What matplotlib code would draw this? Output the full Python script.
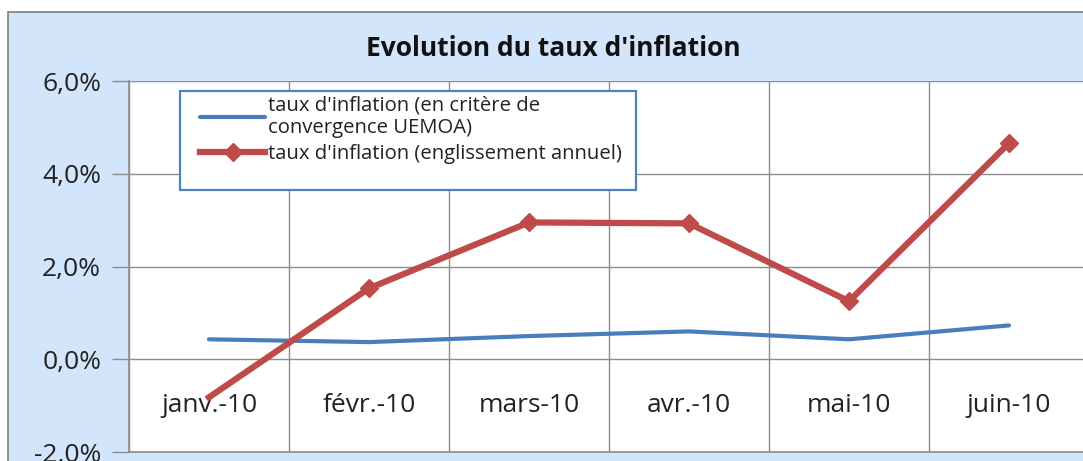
import matplotlib
matplotlib.use("Agg")
import matplotlib.pyplot as plt
from matplotlib.patches import Rectangle
from matplotlib.ticker import FuncFormatter, MultipleLocator

# Data (percent)
months = ["janv.-10", "févr.-10", "mars-10", "avr.-10", "mai-10", "juin-10"]
uemoa = [0.43, 0.37, 0.50, 0.60, 0.43, 0.73]
annual = [-0.82, 1.53, 2.95, 2.93, 1.25, 4.66]
labels = ["taux d'inflation (en critère de\nconvergence UEMOA)",
          "taux d'inflation (englissement annuel)"]

BG_COLOR = "#d3e5fb"
GRID_COLOR = "#8c8c8c"
BLUE = "#4a7ebb"
RED = "#be4b48"
TEXT = "#222222"
FONT = "Open Sans"

fig = plt.figure(figsize=(10.83, 4.61), dpi=100)
fig.patch.set_facecolor("white")
# outer chart area
fig.patches.append(Rectangle((8 / 1083, -0.1), 1.2, 1 - 12 / 461 + 0.1,
                             transform=fig.transFigure, facecolor=BG_COLOR,
                             edgecolor="#7f7f7f", linewidth=1.2, zorder=-10))

ax = fig.add_axes([129 / 1083, 9 / 461, 960 / 1083, 371 / 461])
ax.set_facecolor("white")
x = list(range(len(months)))
ax.plot(x, uemoa, color=BLUE, linewidth=3, solid_capstyle="round", label=labels[0], zorder=3)
ax.plot(x, annual, color=RED, linewidth=4.5, marker="D", markersize=9,
        markevery=[1, 2, 3, 4, 5], label=labels[1], zorder=4)

ax.set_xlim(-0.5, 5.5)
ax.set_ylim(-2, 6)
ax.yaxis.set_major_locator(MultipleLocator(2))
ax.yaxis.set_major_formatter(FuncFormatter(lambda v, p: f"{v:.1f}%".replace(".", ",")))
ax.set_xticks([i + 0.5 for i in range(-1, 6)])
ax.set_xticklabels([])
ax.tick_params(axis="x", length=0)
ax.tick_params(axis="y", length=12, width=1, color=GRID_COLOR, pad=8,
               labelsize=19, labelcolor=TEXT)
for t in ax.get_yticklabels():
    t.set_fontfamily(FONT)
ax.grid(True, color=GRID_COLOR, linewidth=1)
for side in ["top", "right"]:
    ax.spines[side].set_visible(False)
for side in ["left", "bottom"]:
    ax.spines[side].set_color(GRID_COLOR)
    ax.spines[side].set_linewidth(1.2)

for i, m in enumerate(months):
    ax.text(i, -1.0, m, ha="center", va="center", fontsize=19, family=FONT,
            color=TEXT, zorder=2)

fig.text(553 / 1083, 1 - 49 / 461, "Evolution du taux d'inflation", ha="center",
         va="center", fontsize=19, fontweight="bold", family=FONT, color="#111111")

# legend box (drawn separately, it is taller than its content)
ax.add_patch(Rectangle((180 / 1083, 1 - 190 / 461), 456 / 1083, 99 / 461,
                       transform=fig.transFigure, facecolor="white", clip_on=False,
                       edgecolor="#4f81bd", linewidth=1.6, zorder=4.5))
leg = ax.legend(loc="upper left", bbox_to_anchor=(195 / 1083, 1 - 90 / 461),
                bbox_transform=fig.transFigure, frameon=False,
                prop={"family": FONT, "size": 14.6}, handlelength=3.2,
                handletextpad=0.15, borderaxespad=0, borderpad=0.25,
                labelspacing=0.3)
for t in leg.get_texts():
    t.set_color(TEXT)
    t.set_linespacing(1.2)
leg.set_zorder(5)

fig.savefig("out.png", dpi=100)
